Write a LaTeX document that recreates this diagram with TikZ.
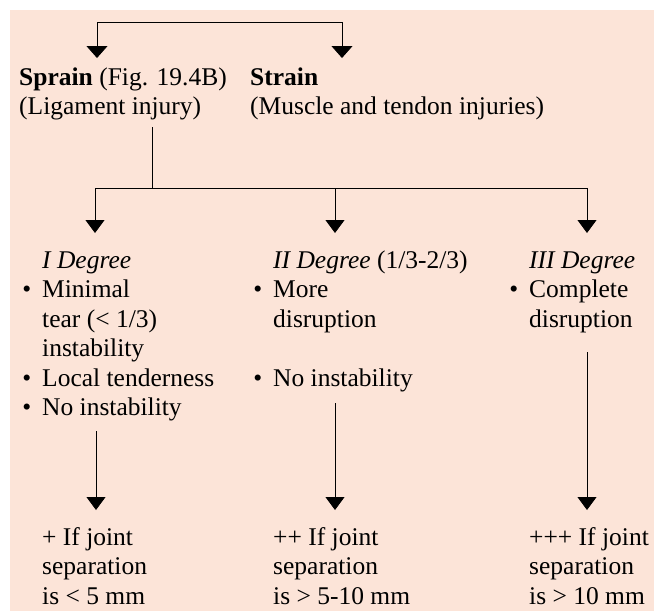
\documentclass[tikz,border=0pt]{standalone}
\usepackage{fontspec}
\setmainfont{Liberation Serif}
\usetikzlibrary{arrows.meta}
\definecolor{bgpeach}{RGB}{252,228,216}
\newcommand{\blk}[1]{\begin{tabular}[t]{@{}l@{}}#1\end{tabular}}
\newcommand{\bl}{\llap{\textbullet\hspace{11pt}}}
\begin{document}
\begin{tikzpicture}[x=1pt,y=-1pt,
  txt/.style={anchor=base west,inner sep=0pt,font=\fontsize{25.5}{29.5}\selectfont},
  conn/.style={line width=0.8pt,black},
  arr/.style={conn,-{Triangle[width=19pt,length=13pt]}}]
\useasboundingbox (0,0) rectangle (654,611);
\fill[bgpeach] (10,10) rectangle (654,611);
% text blocks
\node[txt] (sprain) at (19,85) {\blk{\textbf{Sprain} (Fig. 19.4B)\\(Ligament injury)}};
\node[txt] (strain) at (250,85) {\blk{\textbf{Strain}\\(Muscle and tendon injuries)}};
\node[txt] (deg1) at (42,268) {\blk{\textit{I Degree}\\\bl Minimal\\tear (< 1/3)\\instability\\\bl Local tenderness\\\bl No instability}};
\node[txt] (deg2) at (273,268) {\blk{\textit{II Degree} (1/3-2/3)\\\bl More\\disruption\\ \\\bl No instability}};
\node[txt] (deg3) at (529,268) {\blk{\textit{III Degree}\\\bl Complete\\disruption}};
\node[txt] (res1) at (42,545) {\blk{+ If joint\\separation\\is < 5 mm}};
\node[txt] (res2) at (273,545) {\blk{++ If joint\\separation\\is > 5-10 mm}};
\node[txt] (res3) at (529,545) {\blk{+++ If joint\\separation\\is > 10 mm}};
% connector points
\coordinate (topL) at (97,58);
\coordinate (topR) at (342,58);
\coordinate (stemTop) at (152,127);
\coordinate (stemBot) at (152,188);
\coordinate (busL) at (95,188);
\coordinate (busM) at (335,188);
\coordinate (busR) at (587,188);
\coordinate (d1) at (95,233);
\coordinate (d2) at (335,233);
\coordinate (d3) at (587,233);
\coordinate (u1) at (96,431);
\coordinate (u2) at (335,403);
\coordinate (u3) at (587,352);
\coordinate (r1) at (96,510);
\coordinate (r2) at (335,510);
\coordinate (r3) at (587,510);
% connectors
\draw[conn,{Triangle[width=21pt,length=12pt]}-{Triangle[width=21pt,length=12pt]}] (topL) -- ++(0,-36) -| (topR);
\draw[conn] (stemTop) -- (stemBot);
\draw[conn] (busL) -- (busR);
\draw[arr] (busL) -- (d1);
\draw[arr] (busM) -- (d2);
\draw[arr] (busR) -- (d3);
\draw[arr] (u1) -- (r1);
\draw[arr] (u2) -- (r2);
\draw[arr] (u3) -- (r3);
\end{tikzpicture}
\end{document}
